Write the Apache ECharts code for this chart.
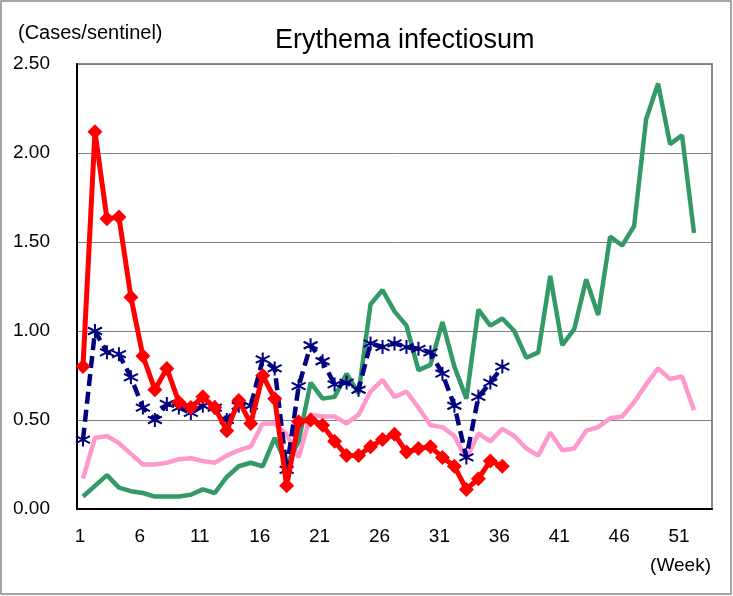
<!DOCTYPE html>
<html>
<head>
<meta charset="utf-8">
<script src="https://cdn.jsdelivr.net/npm/echarts@6/dist/echarts.min.js"></script>
<style>
  html, body { margin: 0; padding: 0; background: #fff; }
  #chart { width: 733px; height: 596px; }
</style>
</head>
<body>
<div id="chart"></div>
<script>
// week numbers on the x axis (the axis has room for week 53)
const weeks = [1, 2, 3, 4, 5, 6, 7, 8, 9, 10, 11, 12, 13, 14, 15, 16, 17, 18, 19, 20,
  21, 22, 23, 24, 25, 26, 27, 28, 29, 30, 31, 32, 33, 34, 35, 36, 37, 38, 39, 40,
  41, 42, 43, 44, 45, 46, 47, 48, 49, 50, 51, 52, 53]

// red diamonds (current year, up to week 36)
const currentYear = [0.80, 2.12, 1.63, 1.64, 1.19, 0.86, 0.67, 0.79, 0.60, 0.57,
  0.63, 0.57, 0.44, 0.61, 0.48, 0.75, 0.62, 0.13, 0.49, 0.50,
  0.47, 0.38, 0.30, 0.30, 0.35, 0.39, 0.42, 0.32, 0.34, 0.35,
  0.29, 0.24, 0.11, 0.17, 0.27, 0.24]

// navy dashed line with asterisks
const lastYear = [0.39, 1.00, 0.88, 0.87, 0.74, 0.57, 0.50, 0.59, 0.57, 0.54,
  0.58, 0.57, 0.50, 0.58, 0.58, 0.84, 0.79, 0.22, 0.69, 0.92,
  0.83, 0.70, 0.71, 0.67, 0.93, 0.91, 0.93, 0.91, 0.90, 0.88,
  0.76, 0.58, 0.29, 0.63, 0.71, 0.80]

// green line
const twoYearsAgo = [0.07, 0.13, 0.19, 0.12, 0.10, 0.09, 0.07, 0.07, 0.07, 0.08,
  0.11, 0.09, 0.18, 0.24, 0.26, 0.24, 0.40, 0.25, 0.38, 0.71,
  0.62, 0.63, 0.76, 0.65, 1.15, 1.23, 1.11, 1.03, 0.78, 0.81,
  1.05, 0.80, 0.62, 1.12, 1.03, 1.07, 1.00, 0.85, 0.88, 1.31,
  0.92, 1.01, 1.29, 1.09, 1.53, 1.48, 1.59, 2.19, 2.39, 2.05,
  2.10, 1.55]

// pink line
const average = [0.17, 0.40, 0.41, 0.37, 0.31, 0.25, 0.25, 0.26, 0.28, 0.285,
  0.27, 0.26, 0.30, 0.33, 0.35, 0.48, 0.48, 0.42, 0.29, 0.53,
  0.52, 0.52, 0.48, 0.53, 0.66, 0.725, 0.63, 0.66, 0.57, 0.47,
  0.46, 0.41, 0.28, 0.425, 0.38, 0.45, 0.41, 0.34, 0.30, 0.43,
  0.33, 0.34, 0.44, 0.46, 0.51, 0.52, 0.60, 0.70, 0.79, 0.73,
  0.745, 0.555]

const FONT = '"Liberation Sans", Arial, sans-serif'

// asterisk marker like the Excel "*" one
const ASTERISK = 'path://M5,0L5,10M0.7,2.5L9.3,7.5M0.7,7.5L9.3,2.5'

const chart = echarts.init(document.getElementById('chart'))

chart.setOption({
  animation: false,
  backgroundColor: '#fff',
  title: {
    text: 'Erythema infectiosum',
    left: 270,
    top: 22,
    textStyle: { fontFamily: FONT, fontSize: 27, fontWeight: 'normal', color: '#000' }
  },
  graphic: [
    {
      type: 'rect',
      shape: { x: 1, y: 1, width: 730, height: 593 },
      style: { fill: 'none', stroke: '#888', lineWidth: 1.5 },
      silent: true
    },
    {
      type: 'text',
      left: 18,
      top: 23,
      style: { text: '(Cases/sentinel)', font: '20px ' + FONT, fill: '#000' }
    },
    {
      type: 'text',
      right: 22,
      top: 556,
      style: { text: '(Week)', font: '19px ' + FONT, fill: '#000' }
    }
  ],
  grid: {
    left: 77,
    right: 21,
    top: 64,
    bottom: 87,
    show: true,
    borderColor: '#888',
    borderWidth: 2
  },
  xAxis: {
    type: 'category',
    data: weeks,
    boundaryGap: true,
    axisLine: { lineStyle: { color: '#000', width: 2 } },
    axisTick: { interval: 4, inside: true, length: 5, lineStyle: { color: '#555' } },
    axisLabel: {
      interval: 4,
      margin: 18,
      padding: [0, 6, 0, 0],
      fontFamily: FONT,
      fontSize: 19,
      color: '#000'
    },
    splitLine: { show: false }
  },
  yAxis: {
    type: 'value',
    min: 0,
    max: 2.5,
    interval: 0.5,
    axisLine: { show: true, lineStyle: { color: '#000', width: 2 } },
    axisTick: { show: false },
    axisLabel: {
      margin: 27,
      fontFamily: FONT,
      fontSize: 19,
      color: '#000',
      formatter: (v) => v.toFixed(2)
    },
    splitLine: { lineStyle: { color: '#808080', width: 1 } }
  },
  series: [
    {
      name: 'average',
      type: 'line',
      data: average,
      symbol: 'none',
      lineStyle: { color: '#ff99cc', width: 4.5 },
      z: 2
    },
    {
      name: 'two years ago',
      type: 'line',
      data: twoYearsAgo,
      symbol: 'none',
      lineStyle: { color: '#339966', width: 4.5 },
      z: 3
    },
    {
      name: 'last year',
      type: 'line',
      data: lastYear,
      symbol: ASTERISK,
      symbolSize: 14,
      showAllSymbol: true,
      itemStyle: { color: '#000080', borderColor: '#000080', borderWidth: 2 },
      lineStyle: { color: '#000080', width: 4.5, type: [12, 6] },
      z: 4
    },
    {
      name: 'this year',
      type: 'line',
      data: currentYear,
      symbol: 'diamond',
      symbolSize: 15,
      showAllSymbol: true,
      itemStyle: { color: '#ff0000' },
      lineStyle: { color: '#ff0000', width: 5 },
      z: 5
    }
  ]
})
</script>
</body>
</html>
